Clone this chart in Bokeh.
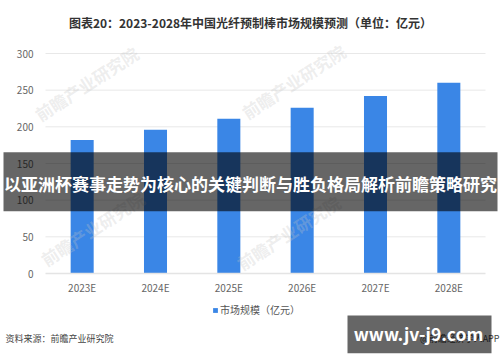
import math
from bokeh.plotting import figure
from bokeh.models import Label, BoxAnnotation, FixedTicker, ColumnDataSource, Range1d, Legend, LegendItem
from bokeh.embed import file_html
from bokeh.resources import INLINE

years = ["2023E", "2024E", "2025E", "2026E", "2027E", "2028E"]
values = [182, 196, 211, 226, 242, 260]
y_ticks = [0, 50, 100, 150, 200, 250, 300]
title_text = "图表20：2023-2028年中国光纤预制棒市场规模预测（单位：亿元）"
legend_text = "市场规模（亿元）"
source_text = "资料来源：前瞻产业研究院"
banner_text = "以亚洲杯赛事走势为核心的关键判断与胜负格局解析前瞻策略研究"
watermark_text = "www.jv-j9.com"
app_text = "@前瞻经济学人APP"
stamp_text = "前瞻产业研究院"

W, H = 500, 362
L, R, T, B = 45, 15, 53, 89          # plotting area inside the canvas
FONT = "Noto Sans CJK SC"
BLUE = "#3a86e6"
n = len(years)
ymax = y_ticks[-1]
px_x = n / (W - L - R)
px_y = ymax / (H - T - B)

def dx(fx):
    return -0.5 + (fx - L) * px_x

def dy(fy):
    return (H - B - fy) * px_y

p = figure(width=W, height=H, output_backend="svg", toolbar_location=None,
           x_range=Range1d(dx(0), dx(W)), y_range=Range1d(dy(H), dy(0)),
           min_border_left=0, min_border_right=0, min_border_top=0, min_border_bottom=0)
p.outline_line_color = None
p.background_fill_color = "white"
p.border_fill_color = "white"
p.xgrid.grid_line_color = None
p.ygrid.grid_line_color = None

# grid lines
p.segment(x0=[-0.5] * len(y_ticks[1:]), x1=[n - 0.5] * len(y_ticks[1:]), y0=y_ticks[1:], y1=y_ticks[1:],
          line_color="#e8e8e8", line_width=1)

src = ColumnDataSource(dict(x=list(range(n)), top=values))
bars = p.vbar(x="x", top="top", width=0.314, source=src, fill_color=BLUE, line_color=None)

p.xaxis.fixed_location = 0
p.yaxis.fixed_location = -0.5
p.xaxis.bounds = (-0.5, n - 0.5)
p.yaxis.bounds = (0, ymax)
p.xaxis.ticker = FixedTicker(ticks=list(range(n)))
p.xaxis.major_label_overrides = {i: y for i, y in enumerate(years)}
p.yaxis.ticker = FixedTicker(ticks=y_ticks)
for ax in (p.xaxis, p.yaxis):
    ax.major_tick_line_color = None
    ax.minor_tick_line_color = None
    ax.major_tick_out = 0
    ax.major_tick_in = 0
    ax.major_label_text_font = FONT
    ax.major_label_text_font_size = "10px"
    ax.major_label_text_color = "#666666"
p.yaxis.axis_line_color = None
p.yaxis.major_label_standoff = 12
p.xaxis.axis_line_color = "#e4e4e4"
p.xaxis.axis_line_width = 1.5
p.xaxis.major_label_standoff = 6

legend = Legend(items=[LegendItem(label=legend_text, renderers=[bars])],
                location=(212, 45), orientation="horizontal",
                glyph_width=6, glyph_height=6, label_standoff=2, label_height=12,
                padding=0, margin=0, spacing=0, border_line_color=None,
                background_fill_alpha=0, label_text_font=FONT, label_text_font_size="10px",
                label_text_color="#555555")
p.add_layout(legend)

# faint diagonal stamps
for sx, sy in [(86, 83), (293, 81), (92, 228), (288, 232)]:
    p.add_layout(Label(x=dx(sx), y=dy(sy), text=stamp_text, text_font=FONT, text_font_style="bold",
                       text_font_size="17px", text_color="#c4c4c4", text_alpha=0.3,
                       angle=math.radians(33), text_align="center", text_baseline="middle"))

p.add_layout(Label(x=dx(250), y=dy(22), text=title_text, text_font=FONT, text_font_style="bold",
                   text_font_size="12px", text_color="#333333", text_align="center", text_baseline="middle"))
p.add_layout(Label(x=dx(5), y=dy(338), text=source_text, text_font=FONT, text_font_size="9px",
                   text_color="#444444", text_align="left", text_baseline="middle"))
p.add_layout(Label(x=dx(499), y=dy(338), text=app_text, text_font=FONT, text_font_size="9px",
                   text_color="#444444", text_align="right", text_baseline="middle"))
p.add_layout(BoxAnnotation(left=dx(3), right=dx(497), top=dy(151.7), bottom=dy(210.7),
                           fill_color="black", fill_alpha=0.6, line_color=None, level="overlay"))
p.add_layout(Label(x=dx(250), y=dy(183), text=banner_text, text_font=FONT, text_font_style="bold",
                   text_font_size="17px", text_color="white", text_align="center", text_baseline="middle",
                   level="overlay"))
p.add_layout(BoxAnnotation(left=dx(347), right=dx(491), top=dy(315), bottom=dy(352.7),
                           fill_color="black", fill_alpha=0.6, line_color=None, level="overlay"))
p.add_layout(Label(x=dx(418), y=dy(333), text=watermark_text, text_font=FONT, text_font_style="bold",
                   text_font_size="17.5px", text_color="white", text_align="center", text_baseline="middle",
                   level="overlay"))

open("out.html", "w").write(file_html(p, INLINE))
